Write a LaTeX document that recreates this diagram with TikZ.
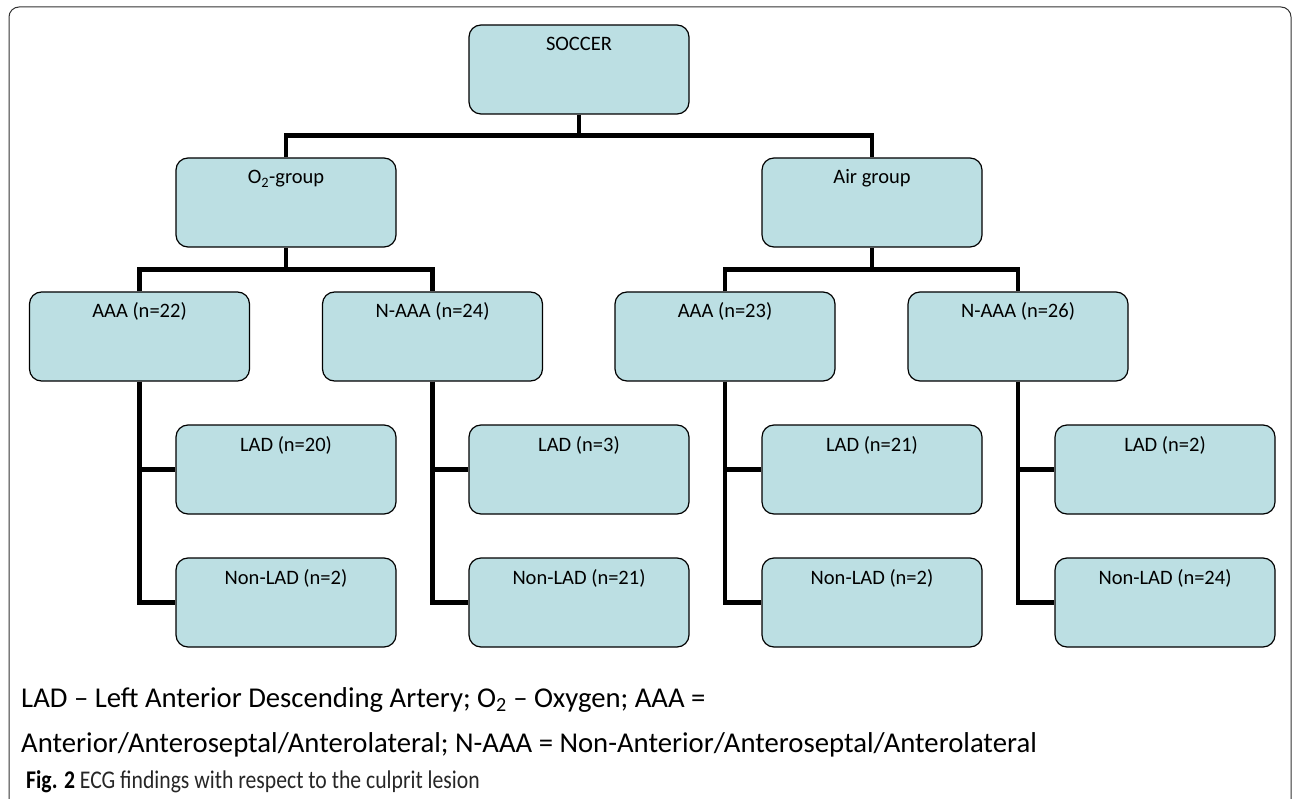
\documentclass[tikz,border=0pt]{standalone}
\usepackage{fontspec}
\setmainfont{Carlito}
\newfontfamily\capfont[FakeStretch=0.85]{Carlito}
\definecolor{boxfill}{RGB}{188,223,227}
\tikzset{
  box/.style={draw, line width=1.2pt, fill=boxfill, rounded corners=12pt,
    minimum width=220pt, inner xsep=0pt, inner ysep=0pt,
    text height=26pt, text depth=63pt, font=\fontsize{20.5}{24}\selectfont},
  conn/.style={line width=4.5pt},
  keytext/.style={anchor=base west, inner sep=0pt, font=\fontsize{28.7}{34}\selectfont},
}
\begin{document}
\begin{tikzpicture}[x=1pt, y=-1pt]
    \useasboundingbox (0,0) rectangle (1295,799);
    \draw[black!80, line width=1pt, rounded corners=10pt] (9,800) -- (9,7) -- (1291,7) -- (1291,800);

    \draw (579, 69.5) node[box] (s) {SOCCER};
    \draw (286, 202.5) node[box] (o) {O\textsubscript{2}-group};
    \draw (872, 202.5) node[box] (a) {Air group};
    \draw (139.5, 336.5) node[box] (oa) {AAA (n=22)};
    \draw (432.5, 336.5) node[box] (on) {N-AAA (n=24)};
    \draw (725, 336.5) node[box] (aa) {AAA (n=23)};
    \draw (1018, 336.5) node[box] (an) {N-AAA (n=26)};
    \draw (286, 469.5) node[box] (oal) {LAD (n=20)};
    \draw (286, 602.5) node[box] (oan) {Non-LAD (n=2)};
    \draw (579, 469.5) node[box] (onl) {LAD (n=3)};
    \draw (579, 602.5) node[box] (onn) {Non-LAD (n=21)};
    \draw (872, 469.5) node[box] (aal) {LAD (n=21)};
    \draw (872, 602.5) node[box] (aan) {Non-LAD (n=2)};
    \draw (1165, 469.5) node[box] (anl) {LAD (n=2)};
    \draw (1165, 602.5) node[box] (ann) {Non-LAD (n=24)};

    \draw[conn] (s.south) -- ++(0,22);
    \draw[conn] (o.north) -- ++(0,-22) -| (a.north);
    \draw[conn] (o.south) -- ++(0,22);
    \draw[conn] (oa.north) -- ++(0,-22) -| (on.north);
    \draw[conn] (a.south) -- ++(0,22);
    \draw[conn] (aa.north) -- ++(0,-22) -| (an.north);
    \draw[conn] (oa.south) |- (oal.west);
    \draw[conn] (oa.south) |- (oan.west);
    \draw[conn] (on.south) |- (onl.west);
    \draw[conn] (on.south) |- (onn.west);
    \draw[conn] (aa.south) |- (aal.west);
    \draw[conn] (aa.south) |- (aan.west);
    \draw[conn] (an.south) |- (anl.west);
    \draw[conn] (an.south) |- (ann.west);

    \node[keytext] (k1) at (21,707) {LAD – Left Anterior Descending Artery; O\textsubscript{2} – Oxygen; AAA =};
    \node[keytext] (k2) at (21,752) {Anterior/Anteroseptal/Anterolateral; N-AAA = Non-Anterior/Anteroseptal/Anterolateral};
    \node[anchor=base west, inner sep=0pt, text=black!85, font=\capfont\fontsize{25.5}{30}\selectfont] (cap) at (26,788) {\textbf{\color{black}Fig. 2} ECG findings with respect to the culprit lesion};
\end{tikzpicture}
\end{document}
